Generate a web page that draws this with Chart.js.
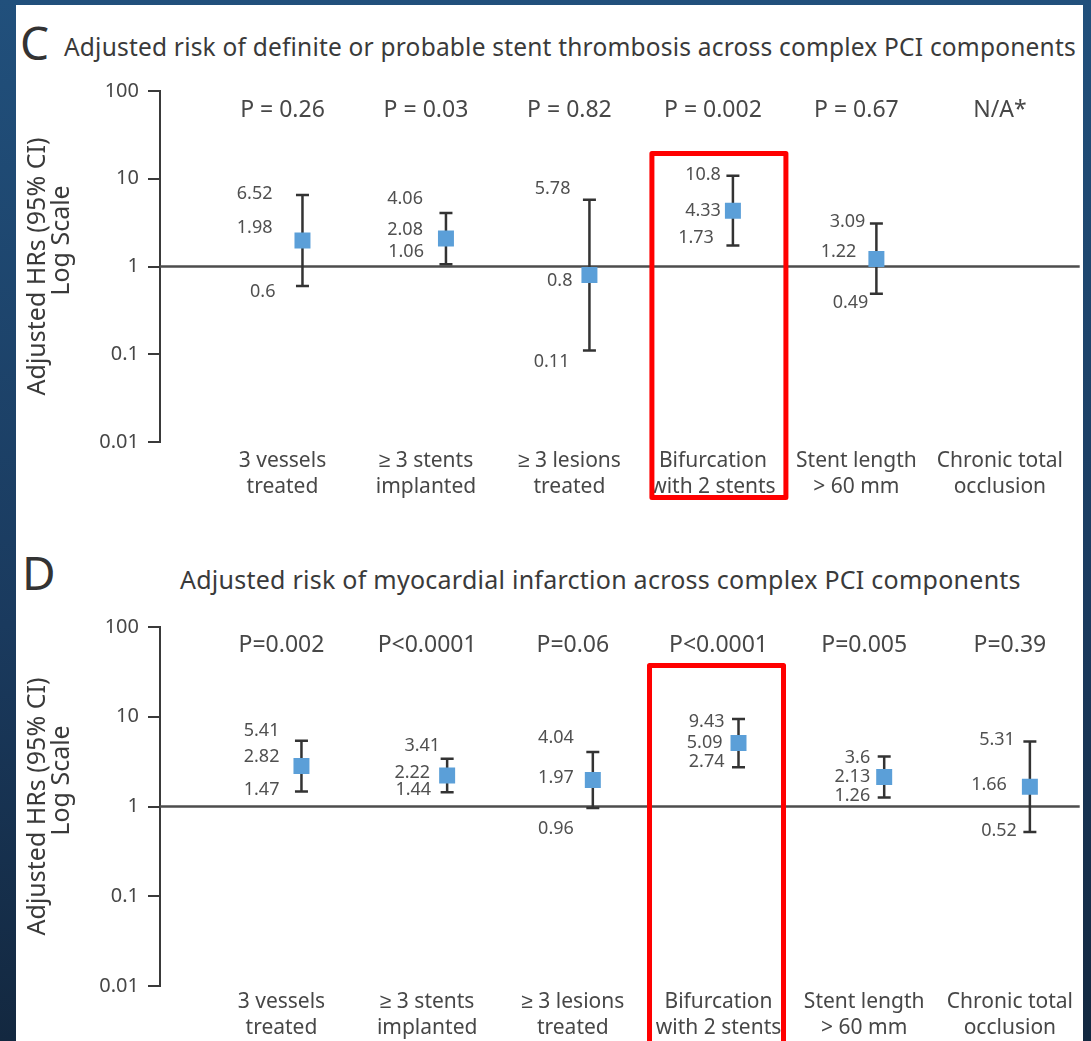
<!DOCTYPE html>
<html>
<head>
<meta charset="utf-8">
<script src="https://cdn.jsdelivr.net/npm/chart.js@4.4.1/dist/chart.umd.min.js"></script>
<style>
  body { margin: 0; width: 1091px; height: 1041px; overflow: hidden;
         background: linear-gradient(180deg, #21507c 0%, #1a3a5e 60%, #132840 100%);
         font-family: 'Noto Sans', sans-serif; }
  #panel { position: absolute; left: 16px; top: 5px; width: 1067px; height: 1100px; background: #fff; }
  .letter { position: absolute; font-size: 46px; line-height: 46px; color: #333; }
  .title { position: absolute; color: #3a3a3a; white-space: nowrap; }
  canvas { position: absolute; left: 0; }
</style>
</head>
<body>
<div id="panel"></div>
<div class="letter" style="left:20px; top:19px;">C</div>
<div class="title" style="left:64px; top:35px; font-size:24.5px; line-height:24.5px; letter-spacing:0.2px;">Adjusted risk of definite or probable stent thrombosis across complex PCI components</div>
<div class="letter" style="left:22px; top:549px;">D</div>
<div class="title" style="left:180px; top:567px; font-size:25px; line-height:25px; letter-spacing:0.25px;">Adjusted risk of myocardial infarction across complex PCI components</div>
<canvas id="chartC" width="1091" height="440" style="top:70px"></canvas>
<canvas id="chartD" width="1091" height="460" style="top:606px"></canvas>

<script>
const categories = [
  ['3 vessels', 'treated'],
  ['\u2265 3 stents', 'implanted'],
  ['\u2265 3 lesions', 'treated'],
  ['Bifurcation', 'with 2 stents'],
  ['Stent length', '> 60 mm'],
  ['Chronic total', 'occlusion']
];
const yTicks = [0.01, 0.1, 1, 10, 100];

// C - definite or probable stent thrombosis
const pValuesC = ['P = 0.26', 'P = 0.03', 'P = 0.82', 'P = 0.002', 'P = 0.67', 'N/A*'];
const hrC    = [1.98, 2.08, 0.8, 4.33, 1.22, null];
const lowerC = [0.6, 1.06, 0.11, 1.73, 0.49, null];
const upperC = [6.52, 4.06, 5.78, 10.8, 3.09, null];

// D - myocardial infarction
const pValuesD = ['P=0.002', 'P<0.0001', 'P=0.06', 'P<0.0001', 'P=0.005', 'P=0.39'];
const hrD    = [2.82, 2.22, 1.97, 5.09, 2.13, 1.66];
const lowerD = [1.47, 1.44, 0.96, 2.74, 1.26, 0.52];
const upperD = [5.41, 3.41, 4.04, 9.43, 3.6, 5.31];

// label nudges in px (upper, hr, lower) -> [dx from bar, dy from value]
const nudgeC = [
  [[-30, -1], [-30, -13], [-27, 6]],
  [[-23, -14], [-23, -9], [-22, -12]],
  [[-19, -11], [-17, 6], [-20, 11]],
  [[-12, -1], [-12, 0], [-19, -8]],
  [[-11, -2], [-20, -7], [-8, 9]],
  null
];
const nudgeD = [
  [[-22, -10], [-22, -9], [-22, -2]],
  [[-7, -13], [-17, -3], [-16, -2]],
  [[-19, -14], [-19, -2], [-19, 21]],
  [[-14, 3], [-16, 0], [-14, -5]],
  [[-14, 1], [-14, 0], [-14, -2]],
  [[-15, -2], [-23, -2], [-13, -1]]
];

const FONT = "'Noto Sans', sans-serif";
const TEXT = '#474747';
const LABEL_SHIFT = -20;
const NB = '\u00a0';

function forestPlugin(cfg) {
  return {
    id: 'forest',
    beforeDatasetsDraw(chart) {
      const { ctx, chartArea, scales: { x, y } } = chart;
      ctx.save();
      // reference line at HR = 1
      const y1 = y.getPixelForValue(1);
      ctx.strokeStyle = '#4d4d4d';
      ctx.lineWidth = 2.5;
      ctx.beginPath();
      ctx.moveTo(chartArea.left, y1);
      ctx.lineTo(chartArea.right, y1);
      ctx.stroke();
      // confidence intervals
      ctx.strokeStyle = '#333';
      ctx.lineWidth = 2.5;
      cfg.hr.forEach((v, i) => {
        if (v == null) return;
        const px = x.getPixelForValue(i);
        const top = y.getPixelForValue(cfg.upper[i]);
        const bot = y.getPixelForValue(cfg.lower[i]);
        ctx.beginPath();
        ctx.moveTo(px, top); ctx.lineTo(px, bot);
        ctx.moveTo(px - 6.5, top); ctx.lineTo(px + 6.5, top);
        ctx.moveTo(px - 6.5, bot); ctx.lineTo(px + 6.5, bot);
        ctx.stroke();
      });
      ctx.restore();
    },
    afterDraw(chart) {
      const { ctx, chartArea, scales: { x, y } } = chart;
      ctx.save();
      // p values
      ctx.fillStyle = TEXT;
      ctx.font = '23px ' + FONT;
      ctx.textAlign = 'center';
      ctx.textBaseline = 'middle';
      cfg.pValues.forEach((p, i) => {
        ctx.fillText(p, x.getPixelForValue(i) + LABEL_SHIFT, chartArea.top + cfg.pTop);
      });
      // estimate labels
      ctx.font = '18px ' + FONT;
      ctx.textAlign = 'right';
      ctx.fillStyle = '#505050';
      cfg.hr.forEach((v, i) => {
        if (v == null) return;
        const px = x.getPixelForValue(i);
        [cfg.upper[i], v, cfg.lower[i]].forEach((val, k) => {
          const n = cfg.nudge[i][k];
          ctx.fillText(String(val), px + n[0], y.getPixelForValue(val) + n[1]);
        });
      });
      // highlight of bifurcation column
      const bx = x.getPixelForValue(3) + cfg.boxDx;
      ctx.strokeStyle = '#ff0000';
      ctx.lineWidth = 5;
      ctx.lineJoin = 'round';
      ctx.strokeRect(bx - 67, chartArea.top + cfg.boxTop, 134, cfg.boxBottom(chart) - chartArea.top - cfg.boxTop);
      ctx.restore();
    }
  };
}

function makeChart(id, cfg) {
  const points = [];
  cfg.hr.forEach((v, i) => { if (v != null) points.push({ x: i, y: v }); });
  return new Chart(document.getElementById(id), {
    type: 'scatter',
    data: {
      datasets: [{
        data: points,
        pointStyle: 'rect',
        pointRadius: 11.3,
        backgroundColor: '#5b9fd8',
        borderWidth: 0
      }]
    },
    options: {
      responsive: false,
      animation: false,
      events: [],
      layout: { padding: { top: cfg.padTop, right: 8, left: 0, bottom: 0 } },
      plugins: { legend: { display: false }, tooltip: { enabled: false } },
      scales: {
        x: {
          type: 'linear',
          min: cfg.xMin,
          max: cfg.xMax,
          afterBuildTicks: s => { s.ticks = categories.map((c, i) => ({ value: i })); },
          afterFit: s => { s.height = cfg.xHeight; s.paddingLeft = 0; s.paddingRight = 0; },
          ticks: {
            callback: v => categories[v],
            labelOffset: LABEL_SHIFT,
            padding: cfg.xPad,
            autoSkip: false,
            maxRotation: 0,
            color: TEXT,
            font: { family: FONT, size: 21, lineHeight: 1.24 }
          },
          grid: { display: false, drawTicks: false },
          border: { display: false }
        },
        y: {
          type: 'logarithmic',
          min: 0.01,
          max: 100,
          afterBuildTicks: s => { s.ticks = yTicks.map(v => ({ value: v })); },
          afterFit: s => { s.width = 160; },
          ticks: {
            callback: v => String(v),
            padding: 9,
            color: TEXT,
            font: { family: FONT, size: 20 }
          },
          grid: { drawOnChartArea: false, drawTicks: true, tickLength: 12, color: '#3a3a3a', lineWidth: 2 },
          border: { display: true, color: '#3a3a3a', width: 2 },
          title: {
            display: true,
            // leading blanks lift the second line a little, as in the original
            text: ['Adjusted HRs (95% CI)', NB.repeat(8) + 'Log Scale'],
            color: '#3a3a3a',
            font: { family: FONT, size: 25, lineHeight: 0.96 },
            padding: { top: 26, bottom: 0 }
          }
        }
      }
    },
    plugins: [forestPlugin(cfg)]
  });
}

makeChart('chartC', {
  hr: hrC, lower: lowerC, upper: upperC, pValues: pValuesC, nudge: nudgeC,
  padTop: 18, xHeight: 68, xPad: 6, xMin: -0.993, xMax: 5.417, pTop: 19,
  boxDx: -14, boxTop: 62.5, boxBottom: c => c.chartArea.bottom + 55.5
});

makeChart('chartD', {
  hr: hrD, lower: lowerD, upper: upperD, pValues: pValuesD, nudge: nudgeD,
  padTop: 20, xHeight: 80, xPad: 3, xMin: -0.971, xMax: 5.342, pTop: 18,
  boxDx: -22, boxTop: 38.5, boxBottom: c => c.height + 10
});
</script>
</body>
</html>
